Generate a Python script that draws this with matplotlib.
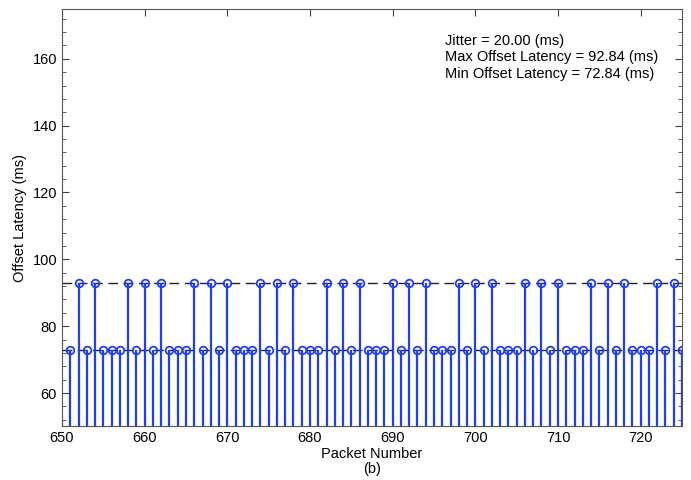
import numpy as np
import matplotlib
matplotlib.use("Agg")
import matplotlib.pyplot as plt
from matplotlib.ticker import MultipleLocator

plt.rcParams['font.family'] = ['Liberation Sans', 'DejaVu Sans']

# packet numbers and offset latency (ms)
packets = list(range(651, 726))
H, L = 92.84, 72.84
latency = [L, H, L, H, L, L, L, H, L, H, L, H, L, L, L, H,
           L, H, L, H, L, L, L, H, L, H, L, H, L, L, L, H,
           L, H, L, H, L, L, L, H, L, H, L, H, L, L, L, H,
           L, H, L, H, L, L, L, H, L, H, L, H, L, L, L, H,
           L, H, L, H, L, L, L, H, L, H, L]

jitter = 20.00
max_lat = 92.84
min_lat = 72.84

fig = plt.figure(figsize=(6.91, 4.80), dpi=100)
ax = fig.add_axes([0.0897, 0.1115, 0.8973, 0.8705])

blue = '#1f3dff'
ax.axhline(max_lat, color='#222222', lw=1.0, ls=(0, (7, 4)), zorder=1)
ax.axhline(min_lat, color='#222222', lw=1.0, ls=(0, (7, 4)), zorder=1)

markerline, stemlines, baseline = ax.stem(packets, latency, basefmt=' ')
plt.setp(stemlines, color=blue, linewidth=1.6)
plt.setp(markerline, color=blue, marker='o', markersize=5.5,
         markerfacecolor='none', markeredgewidth=1.3)

ax.set_xlim(650, 725)
ax.set_ylim(50, 175)
ax.xaxis.set_major_locator(MultipleLocator(10))
ax.yaxis.set_major_locator(MultipleLocator(20))
ax.yaxis.set_minor_locator(MultipleLocator(4))
ax.tick_params(which='both', direction='in', top=True, right=True,
               colors='#444444', labelcolor='black', labelsize=10.5)
ax.tick_params(which='major', length=5)
ax.tick_params(which='minor', length=3)
for s in ax.spines.values():
    s.set_color('#555555')

ax.set_xlabel('Packet Number\n(b)', fontsize=10.5, labelpad=1, linespacing=1.1)
ax.set_ylabel('Offset Latency (ms)', fontsize=10.5, labelpad=4)

ax.text(0.618, 0.94,
        'Jitter = %.2f (ms)\nMax Offset Latency = %.2f (ms)\nMin Offset Latency = %.2f (ms)'
        % (jitter, max_lat, min_lat),
        transform=ax.transAxes, fontsize=10.5, va='top', ha='left', linespacing=1.25)

fig.savefig('out.png', dpi=100)
